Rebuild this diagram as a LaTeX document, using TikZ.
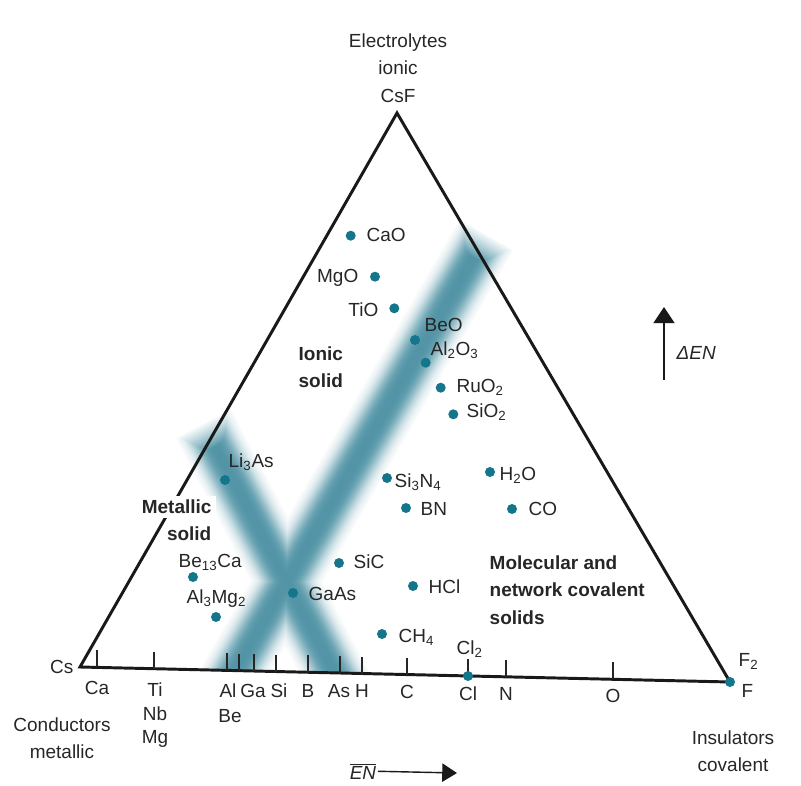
\documentclass[tikz,border=0pt]{standalone}
\usepackage{fontspec}
\setmainfont{Liberation Sans}
\usetikzlibrary{arrows.meta,calc}
\definecolor{dotteal}{RGB}{20,118,138}
\definecolor{bandteal}{RGB}{22,112,136}
\tikzset{
  compdot/.style={circle,fill=dotteal,inner sep=0pt,minimum size=0.25cm},
  lbl/.style={font=\fontsize{13.5}{16}\selectfont,inner sep=1pt,text=black!85},
  region/.style={font=\fontsize{13.5}{19.5}\selectfont\bfseries,align=left,inner sep=1pt,text=black!85},
  tickmark/.style={line width=1pt,black!85},
}
\begin{document}
\begin{tikzpicture}[x=0.025cm,y=-0.025cm]
\useasboundingbox (0,0) rectangle (801,786);
% fuzzy bands, cut at the EN axis
\coordinate (ba1) at (487,234);
\coordinate (ba2) at (224,690);
\coordinate (bb1) at (203,423);
\coordinate (bb2) at (343.5,690);
\begin{scope}
\clip (0,0) -- (801,0) -- (801,683.6) -- (0,665.2) -- cycle;
\foreach \w [evaluate=\w as \p using {74*exp(-((\w/30)^3))}] in {44,42,...,2} {
  \draw[line width=\w pt,draw=bandteal!\p!white] ($(ba1)!\p*0.0007!(ba2)$) -- (ba2);
  \draw[line width=\w pt,draw=bandteal!\p!white] ($(bb1)!\p*0.0012!(bb2)$) -- (bb2);
}
\end{scope}
% triangle
\coordinate (cs) at (80,667);
\coordinate (csf) at (397,113);
\coordinate (f) at (730,682);
\draw[line width=2.1pt,black!90,line join=miter] (cs) -- (csf) -- (f) -- cycle;
% ticks on the EN axis
\draw[tickmark] (97,667.4) -- ++(0,-17);
\draw[tickmark] (154,668.7) -- ++(0,-17);
\draw[tickmark] (227,670.4) -- ++(0,-17);
\draw[tickmark] (239,670.7) -- ++(0,-17);
\draw[tickmark] (254,671.0) -- ++(0,-17);
\draw[tickmark] (276,671.5) -- ++(0,-17);
\draw[tickmark] (308,672.3) -- ++(0,-17);
\draw[tickmark] (340,673.0) -- ++(0,-17);
\draw[tickmark] (362,673.5) -- ++(0,-17);
\draw[tickmark] (407,674.6) -- ++(0,-17);
\draw[tickmark] (468,676.0) -- ++(0,-17);
\draw[tickmark] (506,676.8) -- ++(0,-17);
\draw[tickmark] (613,679.3) -- ++(0,-17);
% element labels below the axis
\node[lbl,anchor=mid] (ca_t) at (97,691) {Ca};
\node[lbl,anchor=mid] (ti_t) at (155,693) {Ti};
\node[lbl,anchor=mid] (nb_t) at (155,717) {Nb};
\node[lbl,anchor=mid] (mg_t) at (155,740) {Mg};
\node[lbl,anchor=mid] (al_t) at (228,694) {Al};
\node[lbl,anchor=mid] (be_t) at (230,719) {Be};
\node[lbl,anchor=mid] (ga_t) at (253,694) {Ga};
\node[lbl,anchor=mid] (si_t) at (279,694) {Si};
\node[lbl,anchor=mid] (b_t) at (308,694) {B};
\node[lbl,anchor=mid] (as_t) at (339,694) {As};
\node[lbl,anchor=mid] (h_t) at (362,694) {H};
\node[lbl,anchor=mid] (c_t) at (407,695) {C};
\node[lbl,anchor=mid] (cl_t) at (468,697) {Cl};
\node[lbl,anchor=mid] (n_t) at (506,697) {N};
\node[lbl,anchor=mid] (o_t) at (613,699) {O};
\node[lbl,anchor=mid east] (cs_t) at (75,670) {Cs};
\node[lbl,anchor=mid west] (f_t) at (740,694) {F};
\node[lbl,anchor=mid west] (f2_t) at (737,663) {F\textsubscript{2}};
\node[lbl,anchor=mid west] (cl2_t) at (455,651) {Cl\textsubscript{2}};
% corner captions
\node[lbl,align=center,font=\fontsize{13.5}{19.5}\selectfont] (top_t) at (398,68) {Electrolytes\\ionic\\CsF};
\node[lbl,align=center,font=\fontsize{13.5}{19.5}\selectfont] (cond_t) at (62,738) {Conductors\\metallic};
\node[lbl,align=center,font=\fontsize{13.5}{19.5}\selectfont] (ins_t) at (733,751) {Insulators\\covalent};
% region names
\node[region,anchor=west] (ionic) at (297,367) {Ionic\\solid};
\node[region,anchor=mid east,fill=white,inner sep=3pt] (metal1) at (216,510) {Metallic};
\node[region,anchor=mid east] (metal2) at (213,537) {solid};
\node[region,anchor=west] (molec) at (488,590) {Molecular and\\network covalent\\solids};
% compounds
\node[compdot] (cao) at (350.7,235.7) {};
\node[compdot] (mgo) at (375,276.7) {};
\node[compdot] (tio) at (394.3,308.3) {};
\node[compdot] (beo) at (415,340) {};
\node[compdot] (alo) at (425.7,362.7) {};
\node[compdot] (ruo) at (440.7,387.7) {};
\node[compdot] (sio) at (453.3,414.3) {};
\node[compdot] (lias) at (225,480) {};
\node[compdot] (sin) at (387,478) {};
\node[compdot] (h2o) at (490,472) {};
\node[compdot] (bn) at (406,508) {};
\node[compdot] (co) at (512,509) {};
\node[compdot] (beca) at (193,577) {};
\node[compdot] (almg) at (216,617) {};
\node[compdot] (sic) at (339,563) {};
\node[compdot] (gaas) at (293,593) {};
\node[compdot] (hcl) at (413,586) {};
\node[compdot] (ch4) at (382,634) {};
\node[compdot] (cl) at (468,676) {};
\node[compdot] (fdot) at (730,682) {};
\node[lbl,anchor=mid west] (cao_t) at (365,238) {CaO};
\node[lbl,anchor=mid east] (mgo_t) at (360,279) {MgO};
\node[lbl,anchor=mid east] (tio_t) at (380,313) {TiO};
\node[lbl,anchor=mid west] (beo_t) at (423,328) {BeO};
\node[lbl,anchor=mid west] (alo_t) at (429,352) {Al\textsubscript{2}O\textsubscript{3}};
\node[lbl,anchor=mid west] (ruo_t) at (455,389) {RuO\textsubscript{2}};
\node[lbl,anchor=mid west] (sio_t) at (465,414) {SiO\textsubscript{2}};
\node[lbl,anchor=mid west] (lias_t) at (227,464) {Li\textsubscript{3}As};
\node[lbl,anchor=mid west] (sin_t) at (393,484) {Si\textsubscript{3}N\textsubscript{4}};
\node[lbl,anchor=mid west] (h2o_t) at (498,477) {H\textsubscript{2}O};
\node[lbl,anchor=mid west] (bn_t) at (419,512) {BN};
\node[lbl,anchor=mid west] (co_t) at (527,512) {CO};
\node[lbl,anchor=mid west] (beca_t) at (177,564) {Be\textsubscript{13}Ca};
\node[lbl,anchor=mid west] (almg_t) at (185,600) {Al\textsubscript{3}Mg\textsubscript{2}};
\node[lbl,anchor=mid west] (sic_t) at (352,565) {SiC};
\node[lbl,anchor=mid west] (gaas_t) at (307,597) {GaAs};
\node[lbl,anchor=mid west] (hcl_t) at (427,590) {HCl};
\node[lbl,anchor=mid west] (ch4_t) at (397,639) {CH\textsubscript{4}};
% axis arrows
\coordinate (den_a) at (664,380);
\coordinate (den_b) at (664,307);
\draw[line width=1.1pt,black!90,-{Triangle[width=15pt,length=11.5pt]}] (den_a) -- (den_b);
\node[lbl,anchor=mid west] (den_t) at (675,356) {\textit{ΔEN}};
\node[lbl,anchor=mid] (en_t) at (363,775.5) {$\overline{\mbox{\textit{EN}}}$};
\coordinate (en_b) at (457,773);
\draw[line width=1pt,black!90,-{Triangle[width=13pt,length=10.5pt]}] (en_t.east) -- (en_b);
\end{tikzpicture}
\end{document}
